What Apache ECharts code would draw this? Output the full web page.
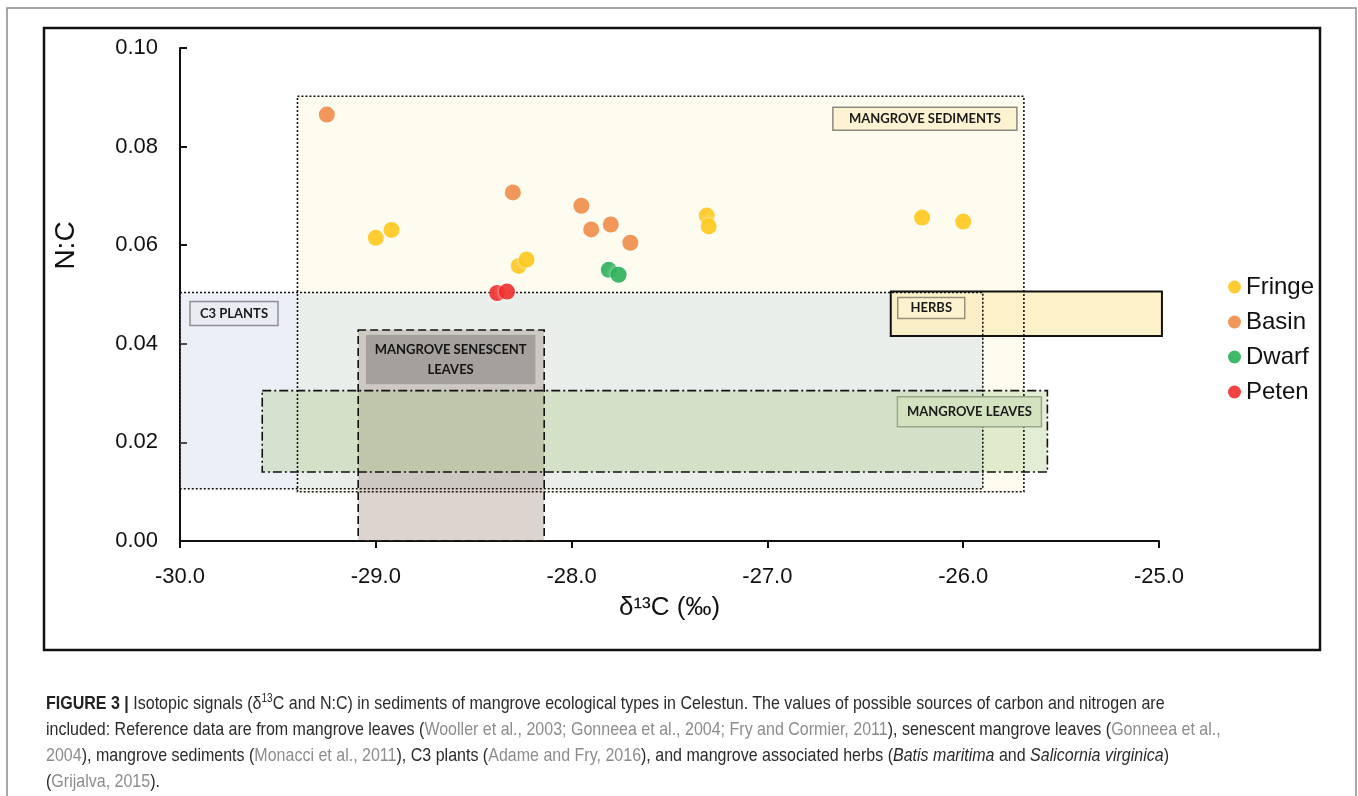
<!DOCTYPE html>
<html>
<head>
<meta charset="utf-8">
<script src="https://cdn.jsdelivr.net/npm/echarts@6/dist/echarts.min.js"></script>
<style>
  html, body { margin:0; padding:0; background:#fff; }
  #chart { position:absolute; left:0; top:0; width:1358px; height:796px; }
  #caption { position:absolute; left:46px; top:690px; width:1500px;
    transform:scaleX(0.843); transform-origin:0 0;
    font-family:'Liberation Sans',Arial,sans-serif; font-size:19px; line-height:26px; color:#2b2b2b; white-space:nowrap; }
  #caption .ref { color:#8c8c8c; }
  #caption b { font-weight:bold; color:#222; }
  #caption sup { font-size:12px; line-height:0; vertical-align:7px; }
</style>
</head>
<body>
<div id="chart"></div>
<div id="caption">
<div><b>FIGURE 3 |</b> Isotopic signals (δ<sup>13</sup>C and N:C) in sediments of mangrove ecological types in Celestun. The values of possible sources of carbon and nitrogen are</div>
<div>included: Reference data are from mangrove leaves (<span class="ref">Wooller et al., 2003; Gonneea et al., 2004; Fry and Cormier, 2011</span>), senescent mangrove leaves (<span class="ref">Gonneea et al.,</span></div>
<div><span class="ref">2004</span>), mangrove sediments (<span class="ref">Monacci et al., 2011</span>), C3 plants (<span class="ref">Adame and Fry, 2016</span>), and mangrove associated herbs (<i>Batis maritima</i> and <i>Salicornia virginica</i>)</div>
<div>(<span class="ref">Grijalva, 2015</span>).</div>
</div>
<script>
// ---- Data ----
const seriesNames = ['Fringe', 'Basin', 'Dwarf', 'Peten'];
const fringeX = [-29.00, -28.92, -28.27, -28.23, -27.31, -27.30, -26.21, -26.00];
const fringeY = [0.0615, 0.0631, 0.0558, 0.0571, 0.0660, 0.0638, 0.0656, 0.0648];
const basinX = [-29.25, -28.30, -27.95, -27.90, -27.80, -27.70];
const basinY = [0.0865, 0.0707, 0.0680, 0.0632, 0.0642, 0.0605];
const dwarfX = [-27.81, -27.76];
const dwarfY = [0.0550, 0.0540];
const petenX = [-28.38, -28.33];
const petenY = [0.0503, 0.0506];

// Source regions (delta13C range, N:C range)
const regionNames = ['MANGROVE SEDIMENTS', 'C3 PLANTS', 'MANGROVE SENESCENT\nLEAVES', 'MANGROVE LEAVES', 'HERBS'];
const regionX0 = [-29.40, -30.00, -29.09, -29.58, -26.37];
const regionX1 = [-25.69, -25.90, -28.14, -25.57, -24.985];
const regionY0 = [0.0100, 0.0106, 0.0000, 0.0140, 0.0416];
const regionY1 = [0.0902, 0.0504, 0.0428, 0.0305, 0.0506];

// Axis ticks
const xMin = -30, xMax = -25, xStep = 1;
const yMin = 0, yMax = 0.10, yStep = 0.02;

// ---- Styles ----
const colors = ['#FFC000', '#ED7D31', '#10A643', '#EE1111'];
const regionFill = ['#fdfcef', 'rgba(196,208,226,0.32)', 'rgba(140,112,96,0.30)', 'rgba(160,196,120,0.30)', 'rgba(253,238,192,0.85)'];
const regionDash = [[2, 2], [2, 2], [8, 4], [9, 3, 2, 3], null];
const labelStyle = [
  { anchor: 'tr', dx: -7, dy: 11, w: 184, h: 23, fill: '#fdf3d2', stroke: '#8a8a80', color: '#1a1a1a' },
  { anchor: 'tl', dx: 10, dy: 9, w: 88, h: 24, fill: '#e9edf3', stroke: '#8f8f8f', color: '#1a1a1a' },
  { anchor: 'tl', dx: 7, dy: 4, w: -15, h: 51, fill: '#a6a09c', stroke: '#cfcbc7', color: '#141414' },
  { anchor: 'tr', dx: -6, dy: 6, w: 144, h: 30, fill: '#d3e2bf', stroke: '#9aa88a', color: '#1a1a1a' },
  { anchor: 'tl', dx: 7, dy: 6, w: 67, h: 21, fill: '#fdf2cf', stroke: '#9a9080', color: '#1a1a1a' }
];

const regions = regionNames.map((n, i) => [regionX0[i], regionX1[i], regionY0[i], regionY1[i], i]);
function rectOf(api) {
  const p0 = api.coord([api.value(0), api.value(3)]);
  const p1 = api.coord([api.value(1), api.value(2)]);
  return { x: p0[0], y: p0[1], width: p1[0] - p0[0], height: p1[1] - p0[1] };
}

const chart = echarts.init(document.getElementById('chart'));
const font = "'Liberation Sans', Arial, sans-serif";
const scatterStyle = (c) => ({ color: c, shadowBlur: 5, shadowColor: 'rgba(255,255,255,0.95)' });

chart.setOption({
  animation: false,
  backgroundColor: 'transparent',
  grid: { left: 180, top: 48, width: 979, height: 493, containLabel: false },
  xAxis: {
    type: 'value', min: xMin, max: xMax, interval: xStep,
    name: 'δ¹³C (‰)', nameLocation: 'middle', nameGap: 54,
    nameTextStyle: { fontFamily: font, fontSize: 26, color: '#111' },
    axisLine: { show: true, lineStyle: { color: '#111', width: 2 } },
    axisTick: { show: true, inside: false, length: 7, lineStyle: { color: '#111', width: 2 } },
    axisLabel: { fontFamily: font, fontSize: 22, color: '#111', margin: 25, formatter: v => v.toFixed(1) },
    splitLine: { show: false }
  },
  yAxis: {
    type: 'value', min: yMin, max: yMax, interval: yStep,
    name: 'N:C', nameLocation: 'middle', nameGap: 100, nameRotate: 90,
    nameTextStyle: { fontFamily: font, fontSize: 28, color: '#111', padding: [0, 0, 0, 98] },
    axisLine: { show: true, lineStyle: { color: '#111', width: 2 } },
    axisTick: { show: true, inside: true, length: 7, lineStyle: { color: '#111', width: 2 } },
    axisLabel: { fontFamily: font, fontSize: 22, color: '#111', margin: 22, formatter: v => v.toFixed(2) },
    splitLine: { show: false }
  },
  legend: {
    orient: 'vertical', left: 1223, top: 270, itemGap: 11,
    itemWidth: 13, itemHeight: 13, icon: 'circle',
    data: seriesNames,
    textStyle: { fontFamily: font, fontSize: 24, color: '#111' }
  },
  graphic: [
    { type: 'rect', shape: { x: 7, y: 8, width: 1349, height: 800 }, style: { fill: 'none', stroke: '#8c8c8c', lineWidth: 1.5 }, z: 0 },
    { type: 'rect', shape: { x: 44, y: 28, width: 1276, height: 622 }, style: { fill: 'none', stroke: '#111', lineWidth: 2.5 }, z: 0 }
  ],
  series: [
    {
      type: 'custom', name: 'regionFill', coordinateSystem: 'cartesian2d', clip: false, z: 1,
      data: regions, encode: { x: [0, 1], y: [2, 3] }, silent: true,
      renderItem: (params, api) => ({ type: 'rect', shape: rectOf(api), style: { fill: regionFill[api.value(4)] } })
    },
    {
      type: 'custom', name: 'regionBorder', coordinateSystem: 'cartesian2d', clip: false, z: 2,
      data: regions, encode: { x: [0, 1], y: [2, 3] }, silent: true,
      renderItem: (params, api) => {
        const i = api.value(4);
        return { type: 'rect', shape: rectOf(api),
          style: { fill: 'none', stroke: '#111', lineWidth: i === 4 ? 2 : 1.6, lineDash: regionDash[i] || null } };
      }
    },
    {
      type: 'custom', name: 'regionLabel', coordinateSystem: 'cartesian2d', clip: false, z: 3,
      data: regions, encode: { x: [0, 1], y: [2, 3] }, silent: true,
      renderItem: (params, api) => {
        const i = api.value(4);
        const r = rectOf(api);
        const s = labelStyle[i];
        const w = s.w > 0 ? s.w : r.width + s.w;
        const x = s.anchor === 'tr' ? r.x + r.width + s.dx - w : r.x + s.dx;
        const y = r.y + s.dy;
        return {
          type: 'group',
          children: [
            { type: 'rect', shape: { x: x, y: y, width: w, height: s.h }, style: { fill: s.fill, stroke: s.stroke, lineWidth: 1.5 } },
            { type: 'text', style: { text: regionNames[i], x: x + w / 2, y: y + s.h / 2, align: 'center', verticalAlign: 'middle',
              fontFamily: 'Lato, sans-serif', fontWeight: 'bold', fontSize: 13, lineHeight: 20, fill: s.color } }
          ]
        };
      }
    },
    { type: 'scatter', name: 'Fringe', z: 5, symbolSize: 16, itemStyle: scatterStyle(colors[0]), data: fringeX.map((x, i) => [x, fringeY[i]]) },
    { type: 'scatter', name: 'Basin', z: 5, symbolSize: 16, itemStyle: scatterStyle(colors[1]), data: basinX.map((x, i) => [x, basinY[i]]) },
    { type: 'scatter', name: 'Dwarf', z: 5, symbolSize: 16, itemStyle: scatterStyle(colors[2]), data: dwarfX.map((x, i) => [x, dwarfY[i]]) },
    { type: 'scatter', name: 'Peten', z: 5, symbolSize: 16, itemStyle: scatterStyle(colors[3]), data: petenX.map((x, i) => [x, petenY[i]]) }
  ]
});
</script>
</body>
</html>
